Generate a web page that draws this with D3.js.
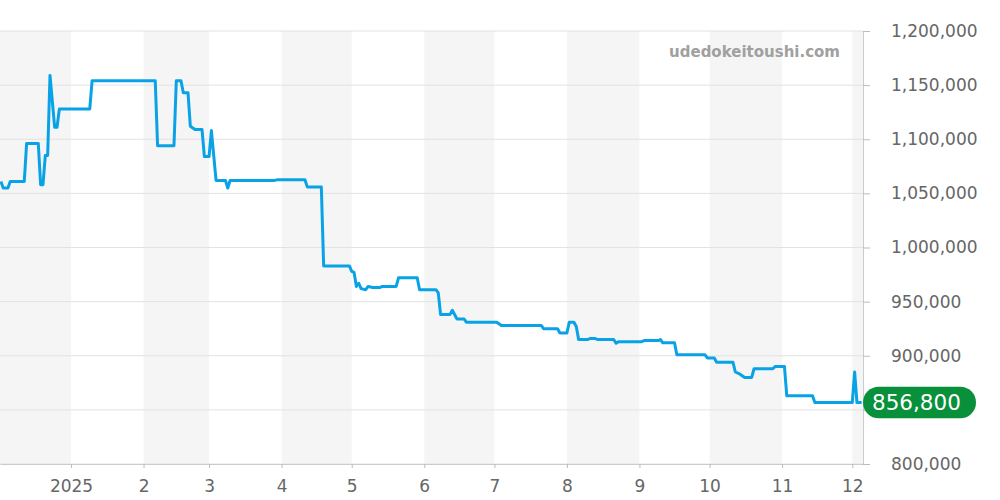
<!DOCTYPE html>
<html><head><meta charset="utf-8">
<script src="https://cdn.jsdelivr.net/npm/d3@7"></script>
<style>body{margin:0;background:#fff;} svg{display:block;font-family:"DejaVu Sans",sans-serif;}</style>
</head><body><svg id="c" width="1000" height="500"></svg>
<script>
const dates = ["2024-12-02","2024-12-03","2024-12-05","2024-12-06","2024-12-12","2024-12-13","2024-12-18","2024-12-19","2024-12-20","2024-12-21","2024-12-22","2024-12-23","2024-12-25","2024-12-26","2024-12-27",
"2025-01-09","2025-01-10","2025-02-06","2025-02-07","2025-02-14","2025-02-15","2025-02-17","2025-02-18","2025-02-20","2025-02-21","2025-02-23","2025-02-26","2025-02-27",
"2025-03-01","2025-03-02","2025-03-04","2025-03-08","2025-03-09","2025-03-10","2025-03-29","2025-03-30","2025-04-11","2025-04-12","2025-04-18","2025-04-19","2025-04-30",
"2025-05-01","2025-05-02","2025-05-03","2025-05-04","2025-05-05","2025-05-07","2025-05-08","2025-05-10","2025-05-13","2025-05-14","2025-05-20","2025-05-21","2025-05-29","2025-05-30",
"2025-06-06","2025-06-07","2025-06-08","2025-06-12","2025-06-13","2025-06-15","2025-06-18","2025-06-19","2025-07-02","2025-07-04","2025-07-21","2025-07-22","2025-07-28","2025-07-29",
"2025-08-01","2025-08-02","2025-08-04","2025-08-05","2025-08-06","2025-08-10","2025-08-11","2025-08-13","2025-08-14","2025-08-21","2025-08-22","2025-08-23",
"2025-09-02","2025-09-03","2025-09-09","2025-09-10","2025-09-11","2025-09-16","2025-09-17","2025-09-29","2025-09-30",
"2025-10-03","2025-10-04","2025-10-11","2025-10-12","2025-10-14","2025-10-16","2025-10-19","2025-10-20","2025-10-28","2025-10-29",
"2025-11-02","2025-11-03","2025-11-14","2025-11-15","2025-12-01","2025-12-02","2025-12-03","2025-12-05"];
const values = [1061000,1055000,1055000,1061000,1061000,1096000,1096000,1058000,1058000,1085000,1085000,1159000,1111000,1111000,1128000,
1128000,1154000,1154000,1094000,1094000,1154000,1154000,1143000,1143000,1112000,1109000,1109000,1084000,
1084000,1108000,1062000,1062000,1055000,1062000,1062000,1062500,1062500,1056000,1056000,983000,983000,
978000,977000,964000,967000,962000,961000,964000,963000,963000,964000,964000,972000,972000,961000,
961000,958000,938000,938000,942000,934000,934000,931000,931000,928000,928000,925000,925000,921000,
921000,931000,931000,927000,915000,915000,916000,916000,915000,915000,911500,913000,
913000,914000,914000,915000,912000,912000,901000,901000,898000,
898000,894000,894000,885000,883000,880000,880000,888000,888000,890000,
890000,863000,863000,856800,856800,885000,856800,856800];
const yTicks = [800000,850000,900000,950000,1000000,1050000,1100000,1150000,1200000];
const monthTicks = ["2025-01-01","2025-02-01","2025-03-01","2025-04-01","2025-05-01","2025-06-01","2025-07-01","2025-08-01","2025-09-01","2025-10-01","2025-11-01","2025-12-01"];
const monthLabels = ["2025","2","3","4","5","6","7","8","9","10","11","12"];
const shadedMonths = [["2024-12-01","2025-01-01"],["2025-02-01","2025-03-01"],["2025-04-01","2025-05-01"],["2025-06-01","2025-07-01"],["2025-08-01","2025-09-01"],["2025-10-01","2025-11-01"],["2025-12-01","2026-01-01"]];
const lastValue = 856800;
const siteName = "udedokeitoushi.com";

(function(){
const pW = 863, pTop = 31, pBot = 464;
const svg = d3.select("#c");
const P = s => new Date(s + "T00:00:00Z");
const x = d3.scaleUtc().domain([new Date(Date.UTC(2024,11,1,15)), new Date(Date.UTC(2025,11,5,14))]).range([0,pW]);
const y = d3.scaleLinear().domain([800000,1200000]).range([pBot,pTop]);
const ly = y(lastValue);

svg.append("defs").append("clipPath").attr("id","clip").append("rect").attr("x",0).attr("y",0).attr("width",pW).attr("height",500);

svg.append("g").attr("clip-path","url(#clip)").selectAll("rect").data(shadedMonths).join("rect")
  .attr("x",d=>x(P(d[0]))).attr("width",d=>x(P(d[1]))-x(P(d[0])))
  .attr("y",pTop).attr("height",pBot-pTop).attr("fill","#f5f5f5");

svg.append("g").selectAll("line").data(yTicks).join("line")
  .attr("x1",0).attr("x2",pW).attr("y1",d=>y(d)).attr("y2",d=>y(d))
  .attr("stroke","#e2e2e2").attr("stroke-width",1);

svg.append("text").attr("x",840).attr("y",57).attr("text-anchor","end")
  .attr("font-size",15).attr("font-weight","bold").attr("fill","#a0a0a0").text(siteName);

const xa = svg.append("g").attr("transform",`translate(0,${pBot})`)
  .call(d3.axisBottom(x).tickValues(monthTicks.map(P)).tickFormat((d,i)=>monthLabels[i]).tickSize(4).tickSizeOuter(0).tickPadding(12));
const ya = svg.append("g").attr("transform",`translate(${pW},0)`)
  .call(d3.axisRight(y).tickValues(yTicks).tickFormat(d3.format(",")).tickSize(7).tickSizeOuter(0).tickPadding(21));
[xa,ya].forEach(g=>{
  g.selectAll("path.domain").attr("stroke","#cccccc");
  g.selectAll(".tick line").attr("stroke","#bbbbbb");
  g.selectAll("text").attr("fill","#666").attr("font-size",17).attr("font-family","DejaVu Sans");
});
// the label hidden under the last-value badge in the reference
ya.selectAll(".tick").filter(d=>Math.abs(y(d)-ly)<16).select("text").remove();

const data = dates.map((d,i)=>({d:P(d), v:values[i]}));
svg.append("path").datum(data).attr("clip-path","url(#clip)")
  .attr("fill","none").attr("stroke","#0aa2e6").attr("stroke-width",3).attr("stroke-linejoin","round")
  .attr("d", d3.line().x(d=>x(d.d)).y(d=>y(d.v)));

svg.append("rect").attr("x",pW).attr("y",ly-15.8).attr("width",113).attr("height",31.6).attr("rx",15.8).attr("fill","#08903b");
svg.append("text").attr("x",872).attr("y",ly).attr("dy","0.36em").attr("fill","#fff").attr("font-size",21.5).text(d3.format(",")(lastValue));
})();
</script></body></html>
